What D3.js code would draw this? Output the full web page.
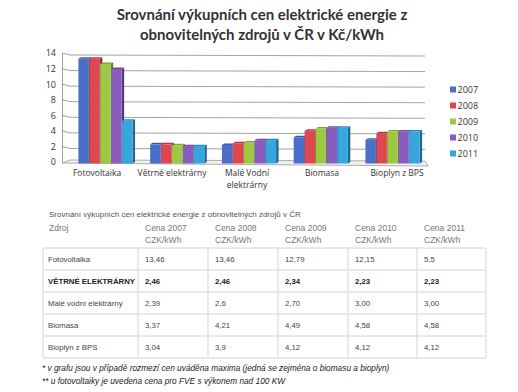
<!DOCTYPE html>
<html><head><meta charset="utf-8">
<script src="https://cdn.jsdelivr.net/npm/d3@7"></script>
<style>
html,body{margin:0;padding:0;background:#fff;}
svg{display:block;}
</style></head>
<body>
<svg id="c" width="518" height="392"></svg>
<script>
// ---- data ----
const titleLines = ["Srovnání výkupních cen elektrické energie z", "obnovitelných zdrojů v ČR v Kč/kWh"];
const chartCategories = [["Fotovoltaika"], ["Větrné elektrárny"], ["Malé Vodní", "elektrárny"], ["Biomasa"], ["Bioplyn z BPS"]];
const years = ["2007", "2008", "2009", "2010", "2011"];
const yTicks = [0, 2, 4, 6, 8, 10, 12, 14];
const price2007 = ["13,46", "2,46", "2,39", "3,37", "3,04"];
const price2008 = ["13,46", "2,46", "2,6", "4,21", "3,9"];
const price2009 = ["12,79", "2,34", "2,70", "4,49", "4,12"];
const price2010 = ["12,15", "2,23", "3,00", "4,58", "4,12"];
const price2011 = ["5,5", "2,23", "3,00", "4,58", "4,12"];
const seriesColors = ["#4a6fc8", "#de4650", "#9cc842", "#8a5cbe", "#35a6de"];
const tableTitle = "Srovnání výkupních cen elektrické energie z obnovitelných zdrojů v ČR";
const tableRows = ["Fotovoltaika", "VĚTRNÉ ELEKTRÁRNY", "Malé vodní elektrárny", "Biomasa", "Bioplyn z BPS"];
const boldRow = 1;
const tableHeader = ["Zdroj", "Cena 2007", "Cena 2008", "Cena 2009", "Cena 2010", "Cena 2011"];
const unitLabel = "CZK/kWh";
const footnotes = ["* v grafu jsou v případě rozmezí cen uváděna maxima (jedná se zejména o biomasu a bioplyn)",
                   "** u fotovoltaiky je uvedena cena pro FVE s výkonem nad 100 KW"];

const series = [price2007, price2008, price2009, price2010, price2011];
const num = s => parseFloat(s.replace(",", "."));

const svg = d3.select("#c");

// ---- title ----
svg.append("g").selectAll("text").data(titleLines).join("text")
  .attr("x", 262).attr("y", (d, i) => 20 + i * 20)
  .attr("text-anchor", "middle")
  .attr("font-family", "Lato, 'Open Sans', sans-serif")
  .attr("font-weight", "bold").attr("font-size", 15)
  .attr("fill", "#333").text(d => d);

// ---- chart ----
const y = d3.scaleLinear().domain([0, 14]).range([162, 53]);
const x0 = d3.scaleBand().domain(d3.range(chartCategories.length)).range([70, 428]).paddingInner(0.233).paddingOuter(0.111);
const x1 = d3.scaleBand().domain(years).range([0, x0.bandwidth()]).padding(0.04);
const xLab = d3.scalePoint().domain(d3.range(chartCategories.length)).range([97, 397]);
const barShift = 1.5;

const chart = svg.append("g");
// floor
chart.append("path")
  .attr("d", `M${62},${y(0) + 1}L${428},${y(0) + 4}L${425},${y(0) - 1}L${70},${y(0) - 2}Z`)
  .attr("fill", "#f0f0f0").attr("stroke", "#9a9a9a").attr("stroke-width", 0.8);
// gridlines (back wall)
chart.append("g").selectAll("path").data(yTicks.filter(t => t > 0)).join("path")
  .attr("d", t => `M${62},${y(t)}L${70},${y(t) + 2}L${425},${y(t) + 3}`)
  .attr("fill", "none").attr("stroke", "#8c8c8c").attr("stroke-width", 0.8);
// y axis
const yAxis = d3.axisLeft(y).tickValues(yTicks).tickSize(0).tickPadding(6);
const ya = chart.append("g").attr("transform", "translate(62,0)").call(yAxis);
ya.select(".domain").attr("stroke", "#8c8c8c").attr("stroke-width", 0.8);
ya.selectAll("text").attr("font-family", "'Open Sans', Lato, sans-serif").attr("font-size", 9).attr("fill", "#333");

// bars
const groups = chart.append("g").selectAll("g").data(chartCategories).join("g")
  .attr("transform", (d, i) => `translate(${x0(i)},${barShift})`);
groups.each(function(cat, ci) {
  const g = d3.select(this);
  years.forEach((yr, si) => {
    const v = num(series[si][ci]);
    const bx = x1(yr), bw = x1.bandwidth(), top = y(v), base = y(0);
    const col = d3.color(seriesColors[si]);
    // side face
    g.append("path")
      .attr("d", `M${bx + bw},${top}L${bx + bw + 2.5},${top - 1.5}L${bx + bw + 2.5},${base - 1.5}L${bx + bw},${base}Z`)
      .attr("fill", col.darker(1.3));
    // top face
    g.append("path")
      .attr("d", `M${bx},${top}L${bx + 2.5},${top - 1.5}L${bx + bw + 2.5},${top - 1.5}L${bx + bw},${top}Z`)
      .attr("fill", col.darker(0.6));
    g.append("rect").attr("x", bx).attr("y", top).attr("width", bw).attr("height", base - top)
      .attr("fill", col.formatHex());
  });
});
// x labels
const xl = chart.append("g").selectAll("text").data(chartCategories).join("text")
  .attr("x", (d, i) => xLab(i))
  .attr("y", 176).attr("text-anchor", "middle")
  .attr("font-family", "'Open Sans', Lato, sans-serif").attr("font-size", 8.5).attr("fill", "#333");
xl.each(function(lines, i) {
  d3.select(this).selectAll("tspan").data(lines).join("tspan")
    .attr("x", xLab(i)).attr("dy", (d, j) => j ? 12 : 0).text(d => d);
});

// legend
const leg = chart.append("g").selectAll("g").data(years).join("g")
  .attr("transform", (d, i) => `translate(450,${90 + i * 16})`);
leg.append("rect").attr("x", 0).attr("y", -3.5).attr("width", 6).attr("height", 6)
  .attr("fill", (d, i) => seriesColors[i]);
leg.append("text").attr("x", 7.5).attr("y", 3).attr("font-family", "'Open Sans', Lato, sans-serif")
  .attr("font-size", 9).attr("fill", "#333").text(d => d);

// ---- table ----
const tb = svg.append("g");
const tFont = "'Liberation Sans', Arial, sans-serif";
tb.append("text").attr("x", 49).attr("y", 217).attr("font-family", tFont).attr("font-size", 8)
  .attr("fill", "#555").text(tableTitle);
const colX = [43, 138, 208, 278, 348, 417, 486];
const rowY = [248, 270, 292, 314, 336, 358];
// header
tb.append("g").selectAll("text").data(tableHeader).join("text")
  .attr("x", (d, i) => (i === 0 ? 49 : colX[i] + 7)).attr("y", 231)
  .attr("font-family", tFont).attr("font-size", 8.5).attr("fill", "#777").text(d => d);
tb.append("g").selectAll("text").data(tableHeader.slice(1)).join("text")
  .attr("x", (d, i) => colX[i + 1] + 7).attr("y", 243)
  .attr("font-family", tFont).attr("font-size", 8.5).attr("fill", "#777").text(unitLabel);
// grid
tb.append("g").selectAll("line").data(rowY).join("line")
  .attr("x1", colX[0]).attr("x2", colX[6]).attr("y1", d => d).attr("y2", d => d)
  .attr("stroke", "#dfe3ea").attr("stroke-width", 1.5);
tb.append("g").selectAll("line").data(colX).join("line")
  .attr("x1", d => d).attr("x2", d => d).attr("y1", rowY[0]).attr("y2", rowY[5])
  .attr("stroke", "#dfe3ea").attr("stroke-width", 1.5);
// body
tableRows.forEach((name, ri) => {
  const yy = rowY[ri] + 14;
  const bold = ri === boldRow;
  const cells = [name].concat(series.map(s => s[ri]));
  tb.append("g").selectAll("text").data(cells).join("text")
    .attr("x", (d, i) => (i === 0 ? 48 : colX[i] + 7)).attr("y", yy)
    .attr("font-family", tFont).attr("font-size", 7.8)
    .attr("font-weight", bold ? "bold" : "normal")
    .attr("fill", bold ? "#222" : "#444").text(d => d);
});
// footnotes
svg.append("g").selectAll("text").data(footnotes).join("text")
  .attr("x", 42).attr("y", (d, i) => 371 + i * 13)
  .attr("font-family", tFont).attr("font-style", "italic").attr("font-size", 8.3)
  .attr("fill", "#222").text(d => d);
</script>
</body></html>
